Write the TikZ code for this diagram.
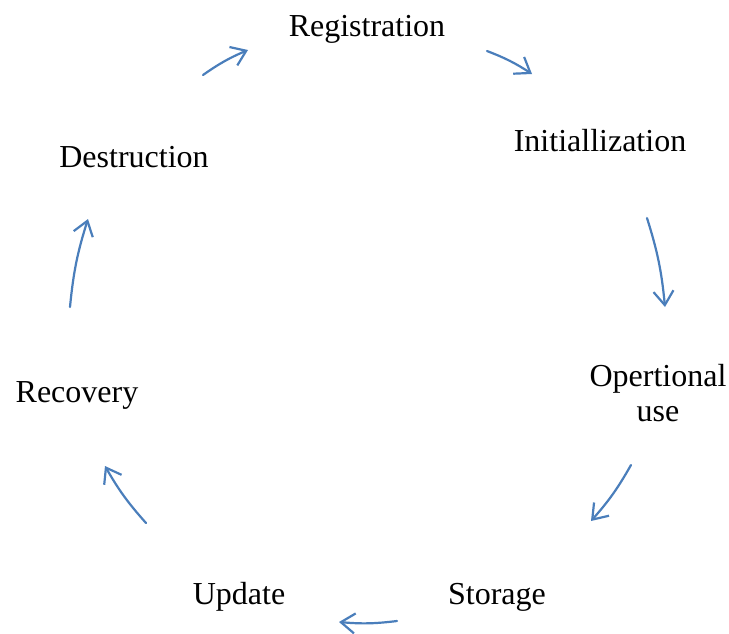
\documentclass[tikz,border=0pt]{standalone}
\usepackage{fontspec}
\setmainfont{Liberation Serif}
\usetikzlibrary{arrows.meta}
\definecolor{flowblue}{RGB}{74,126,187}
\tikzset{
  stage/.style={font=\fontsize{32}{35}\selectfont, align=center, inner sep=0pt},
  flow/.style={draw=flowblue, line width=2.2pt, line cap=round,
    -{Straight Barb[length=14pt,width=20pt,line width=2.2pt]}, bend left=6}
}
\begin{document}
\begin{tikzpicture}[x=1pt,y=-1pt]
\useasboundingbox (0,0) rectangle (729,633);
% stages of the life cycle
\node[stage] (reg)  at (367,29)  {Registration};
\node[stage] (init) at (600,141) {Initiallization};
\node[stage] (op)   at (658,393) {Opertional\\use};
\node[stage] (sto)  at (497,597) {Storage};
\node[stage] (upd)  at (239,597) {Update};
\node[stage] (rec)  at (77,395)  {Recovery};
\node[stage] (des)  at (134,157) {Destruction};
% arrow end points between stages
\coordinate (a1s) at (203,75);  \coordinate (a1e) at (248,50);
\coordinate (a2s) at (487,51);  \coordinate (a2e) at (532,74);
\coordinate (a3s) at (647,218); \coordinate (a3e) at (665,307);
\coordinate (a4s) at (631,465); \coordinate (a4e) at (591,521);
\coordinate (a5s) at (397,621); \coordinate (a5e) at (339,622);
\coordinate (a6s) at (146,523); \coordinate (a6e) at (105,466);
\coordinate (a7s) at (70,307);  \coordinate (a7e) at (88,219);
\draw[flow] (a1s) to (a1e);
\draw[flow] (a2s) to (a2e);
\draw[flow] (a3s) to (a3e);
\draw[flow] (a4s) to (a4e);
\draw[flow] (a5s) to (a5e);
\draw[flow] (a6s) to (a6e);
\draw[flow] (a7s) to (a7e);
\end{tikzpicture}
\end{document}
